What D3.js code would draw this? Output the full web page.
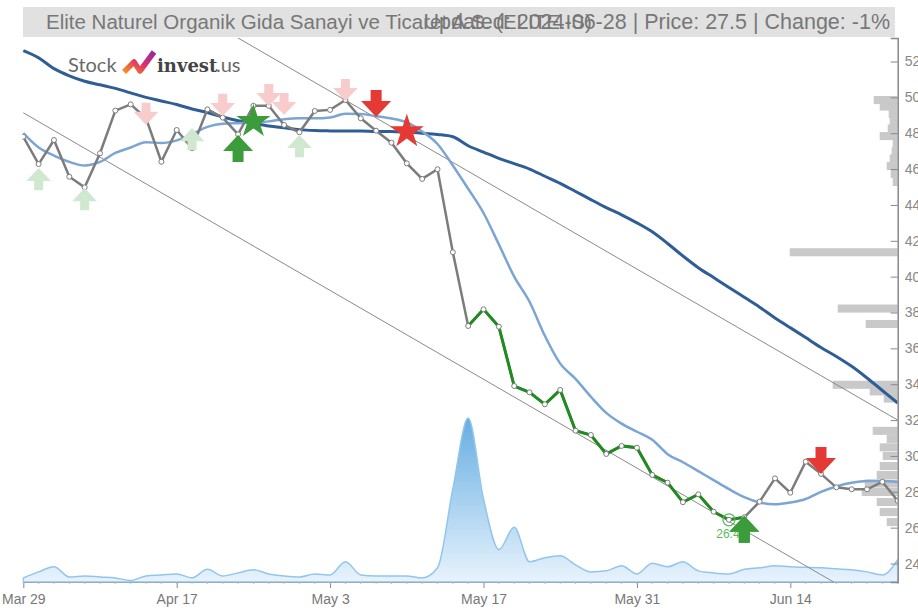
<!DOCTYPE html>
<html>
<head>
<meta charset="utf-8">
<script src="https://cdn.jsdelivr.net/npm/d3@7"></script>
<style>
body { margin: 0; background: #fff; }
text { font-family: "Liberation Sans", Arial, sans-serif; }
</style>
</head>
<body>
<div id="chart"></div>
<script>

const width = 918
const height = 610
const plot = {left: 23.3, right: 897.7, top: 38, bottom: 582}

// trading days (Borsa Istanbul, holidays skipped)
const dates = ["Mar 29","Apr 1","Apr 2","Apr 3","Apr 4","Apr 5","Apr 8","Apr 9","Apr 15","Apr 16",
  "Apr 17","Apr 18","Apr 19","Apr 22","Apr 24","Apr 25","Apr 26","Apr 29","Apr 30","May 2",
  "May 3","May 6","May 7","May 8","May 9","May 10","May 13","May 14","May 15","May 16",
  "May 17","May 20","May 21","May 22","May 23","May 24","May 27","May 28","May 29","May 30",
  "May 31","Jun 3","Jun 4","Jun 5","Jun 6","Jun 7","Jun 10","Jun 11","Jun 12","Jun 13",
  "Jun 14","Jun 20","Jun 21","Jun 24","Jun 25","Jun 26","Jun 27","Jun 28"]

const price = [47.8,46.28,47.62,45.57,44.98,46.88,49.26,49.61,48.83,46.41,
  48.18,47.16,49.33,48.87,47.94,49.53,49.53,48.46,48.05,49.24,
  49.3,49.85,48.83,48.14,47.47,46.32,45.45,45.99,41.36,37.25,
  38.18,37.21,33.9,33.55,32.88,33.68,31.41,31.17,30.11,30.56,
  30.46,28.94,28.51,27.42,27.86,26.89,26.44,26.58,27.45,28.75,
  27.95,29.68,29.0,28.25,28.14,28.14,28.56,27.5]

const maLong = [52.6,52.2,51.6,51.2,50.9,50.7,50.5,50.25,50.0,49.8,
  49.6,49.35,49.15,48.9,48.7,48.55,48.4,48.3,48.2,48.15,
  48.13,48.12,48.12,48.1,48.1,48.05,48.0,47.93,47.8,47.3,
  46.95,46.6,46.3,46.0,45.6,45.2,44.75,44.3,43.85,43.45,
  43.0,42.5,41.85,41.15,40.5,39.95,39.4,38.85,38.3,37.7,
  37.15,36.6,36.05,35.55,35.0,34.35,33.65,32.95]

const maShort = [48.0,47.2,46.75,46.4,46.2,46.4,46.9,47.2,47.5,47.45,
  47.6,47.95,48.35,48.53,48.56,48.59,48.66,48.78,48.83,48.83,
  48.88,49.08,49.07,48.95,48.82,48.6,48.1,47.4,46.2,44.9,
  43.55,41.8,40.0,38.6,36.7,35.15,34.3,33.3,32.4,31.8,
  31.35,30.9,30.1,29.65,29.15,28.65,28.15,27.7,27.4,27.3,
  27.4,27.6,28.0,28.3,28.5,28.6,28.6,28.55]

// relative volume
const volume = [40,100,150,50,60,50,40,15,60,70,
  80,40,125,60,90,120,80,60,50,80,
  70,200,70,60,60,60,40,140,920,1620,
  820,320,540,200,240,260,170,100,110,160,
  80,185,150,200,110,90,80,125,140,160,
  150,145,140,130,120,100,70,220]

// volume by price (right side)
const profilePrice = [49.85,49.49,49.07,48.65,48.26,47.84,47.43,47.0,46.59,46.17,45.73,45.28,
  41.36,38.22,37.36,33.97,33.6,33.2,
  31.4,30.95,30.48,30.0,29.44,28.94,28.46,27.99,27.43,26.87,26.31]
const profileVol = [24,18,9,8,10,18,5,6,8,11,7,5,
  108,60,32,65,28,14,
  25,11,18,15,18,21,33,36,21,18,11]

// trend channel: [start index, start value, end index, end value]
const channelUpper = [0, 60.25, 57, 32.0]
const channelLower = [0, 49.14, 57, 20.9]

const greenFrom = 29, greenTo = 47

// signals: index, price level of the arrow tip
const buySignals = [{i:1, v:46.06, strong:false}, {i:4, v:44.94, strong:false}, {i:11, v:48.29, strong:false},
  {i:18, v:47.9, strong:false}, {i:14, v:47.9, strong:true}, {i:47, v:26.67, strong:true}]
const sellSignals = [{i:8, v:48.46, strong:false}, {i:13, v:48.96, strong:false}, {i:16, v:49.51, strong:false},
  {i:17, v:49.01, strong:false}, {i:21, v:49.79, strong:false}, {i:23, v:48.9, strong:true}, {i:52, v:29.0, strong:true}]
const stars = [{i:15, v:48.65, color:"#3c9c3c"}, {i:25, v:48.08, color:"#e53935"}]

const yTicks = [24,26,28,30,32,34,36,38,40,42,44,46,48,50,52]
const xTickIdx = [0,10,20,30,40,50]

const titleName = "Elite Naturel Organik Gida Sanayi ve Ticaret A.S. (ELITE.IS)"
const titleInfo = "Updated: 2024-06-28 | Price: 27.5 | Change: -1%"

var x = d3.scalePoint()
  .domain(dates)
  .range([plot.left, plot.right])

var y = d3.scaleLinear()
  .domain([22.97, 53.31])
  .range([plot.bottom, plot.top])

var yVol = d3.scaleLinear()
  .domain([0, d3.max(volume)])
  .range([plot.bottom, plot.bottom - 164])

var profLen = d3.scaleLinear()
  .domain([0, d3.max(profileVol)])
  .range([0, 108])

var svg = d3.select("#chart")
  .append("svg")
  .attr("width", width)
  .attr("height", height)

var defs = svg.append("defs")
defs.append("clipPath").attr("id", "clip")
  .append("rect")
  .attr("x", plot.left - 1).attr("y", plot.top)
  .attr("width", plot.right - plot.left + 1).attr("height", plot.bottom - plot.top)

var grad = defs.append("linearGradient").attr("id", "volgrad")
  .attr("x1", 0).attr("y1", 0).attr("x2", 0).attr("y2", 1)
grad.append("stop").attr("offset", "0%").attr("stop-color", "#66aee2")
grad.append("stop").attr("offset", "100%").attr("stop-color", "#e8f3fc")

var g = svg.append("g").attr("clip-path", "url(#clip)")

// volume area
g.append("path")
  .datum(volume)
  .attr("fill", "url(#volgrad)")
  .attr("stroke", "#93c5ec")
  .attr("stroke-width", 1.5)
  .attr("d", d3.area()
    .curve(d3.curveMonotoneX)
    .x(function(d, i) { return x(dates[i]) })
    .y0(plot.bottom)
    .y1(function(d) { return yVol(d) }))

// volume profile
var binH = y(0) - y(0.45)
g.selectAll(".prof")
  .data(profilePrice)
  .enter().append("rect")
  .attr("class", "prof")
  .attr("x", function(d, i) { return plot.right - profLen(profileVol[i]) })
  .attr("y", function(d) { return y(d) - binH / 2 })
  .attr("width", function(d, i) { return profLen(profileVol[i]) })
  .attr("height", binH)
  .style("fill", "#c9c9c9")

// channel lines
;[channelUpper, channelLower].forEach(function(c) {
  var step = x.step()
  g.append("line")
    .attr("x1", x(dates[c[0]])).attr("y1", y(c[1]))
    .attr("x2", x(dates[0]) + c[2] * step).attr("y2", y(c[3]))
    .attr("stroke", "#8a8a8a")
    .attr("stroke-width", 1)
})

var lineOf = function(arr) {
  return d3.line()
    .curve(d3.curveMonotoneX)
    .x(function(d, i) { return x(dates[i]) })
    .y(function(d) { return y(d) })(arr)
}

g.append("path")
  .attr("d", lineOf(maLong))
  .attr("fill", "none")
  .attr("stroke", "#2f5e97")
  .attr("stroke-width", 3)

g.append("path")
  .attr("d", lineOf(maShort))
  .attr("fill", "none")
  .attr("stroke", "#7aa5d4")
  .attr("stroke-width", 2.5)

// price line
var pts = price.map(function(v, i) { return {i: i, v: v} })
var priceLine = d3.line()
  .x(function(d) { return x(dates[d.i]) })
  .y(function(d) { return y(d.v) })

g.append("path")
  .datum(pts)
  .attr("fill", "none")
  .attr("stroke", "#7c7c7c")
  .attr("stroke-width", 2.5)
  .attr("d", priceLine)

g.append("path")
  .datum(pts.slice(greenFrom, greenTo + 1))
  .attr("fill", "none")
  .attr("stroke", "#1f8c1f")
  .attr("stroke-width", 3)
  .attr("d", priceLine)

g.selectAll(".dot")
  .data(pts)
  .enter().append("circle")
  .attr("class", "dot")
  .attr("cx", function(d) { return x(dates[d.i]) })
  .attr("cy", function(d) { return y(d.v) })
  .attr("r", 2.5)
  .style("fill", "#fff")
  .style("stroke", "#7c7c7c")
  .style("stroke-width", 1)

// arrows, tip at (0,0) pointing down
const arrowDown = "M0,0 L-15,-16 L-5.5,-16 L-5.5,-27 L5.5,-27 L5.5,-16 L15,-16 Z"

function drawArrow(s, up, color) {
  var k = s.strong ? 1 : 0.82
  g.append("path")
    .attr("d", arrowDown)
    .attr("transform", "translate(" + x(dates[s.i]) + "," + y(s.v) + ") scale(" + k + "," + (up ? -k : k) + ")")
    .style("fill", color)
}
buySignals.forEach(function(s) { drawArrow(s, true, s.strong ? "#3c9c3c" : "#cfe8cf") })
sellSignals.forEach(function(s) { drawArrow(s, false, s.strong ? "#e53935" : "#f8cccc") })

stars.forEach(function(s) {
  g.append("path")
    .attr("d", d3.symbol(d3.symbolStar).size(360)())
    .attr("transform", "translate(" + x(dates[s.i]) + "," + y(s.v) + ")")
    .style("fill", s.color)
})

// lowest close marker
var minIdx = d3.minIndex(price)
g.append("circle")
  .attr("cx", x(dates[minIdx]))
  .attr("cy", y(price[minIdx]))
  .attr("r", 6)
  .style("fill", "none")
  .style("stroke", "#5cb85c")
  .style("stroke-width", 1.2)
svg.append("text")
  .attr("x", x(dates[minIdx]) - 1)
  .attr("y", y(price[minIdx]) + 18)
  .attr("text-anchor", "middle")
  .style("font-size", "12px")
  .style("fill", "#5cb85c")
  .text(d3.format(".1f")(Math.floor(price[minIdx] * 10) / 10))
// strong buy arrow sits over the label
buySignals.filter(function(s) { return s.i == 47 }).forEach(function(s) {
  svg.append("path")
    .attr("d", arrowDown)
    .attr("transform", "translate(" + x(dates[s.i]) + "," + y(s.v) + ") scale(1,-1)")
    .style("fill", "#3c9c3c")
})

// x axis
var xAxis = svg.append("g")
  .attr("transform", "translate(0," + plot.bottom + ")")
  .call(d3.axisBottom(x)
    .tickValues(xTickIdx.map(function(i) { return dates[i] }))
    .tickSize(6).tickSizeOuter(0).tickPadding(6))
xAxis.select(".domain").attr("stroke", "#9ab")
xAxis.selectAll(".tick line").attr("stroke", "#888")
xAxis.selectAll("text").style("font-size", "14px").style("fill", "#777")

svg.append("g").selectAll("line")
  .data(dates)
  .enter().append("line")
  .attr("x1", function(d) { return x(d) }).attr("x2", function(d) { return x(d) })
  .attr("y1", plot.bottom).attr("y2", plot.bottom + 2)
  .attr("stroke", "#bbb")

// y axis on the right
var yAxis = svg.append("g")
  .attr("transform", "translate(" + plot.right + ",0)")
  .call(d3.axisRight(y).tickValues(yTicks).tickSize(-7).tickPadding(7))
yAxis.select(".domain").attr("stroke", "#888").attr("stroke-width", 1.5)
yAxis.selectAll(".tick line").attr("stroke", "#888")
yAxis.selectAll("text").style("font-size", "14px").style("fill", "#888")

// title bar
svg.append("rect")
  .attr("x", 23).attr("y", 7)
  .attr("width", 872).attr("height", 30)
  .style("fill", "#e1e1e1")
svg.append("text")
  .attr("x", 46).attr("y", 29)
  .style("font-size", "20.5px").style("fill", "#777")
  .text(titleName)
svg.append("text")
  .attr("x", 890).attr("y", 29)
  .attr("text-anchor", "end")
  .style("font-size", "21.5px").style("fill", "#777")
  .text(titleInfo)

// logo
var logo = svg.append("g")
logo.append("text")
  .attr("x", 68).attr("y", 72)
  .style("font-family", "Lato, 'Open Sans', sans-serif")
  .style("font-size", "20px").style("fill", "#6a6a6a")
  .text("Stock")
var lg = defs.append("linearGradient").attr("id", "logograd")
  .attr("x1", 0).attr("y1", 1).attr("x2", 1).attr("y2", 0)
lg.append("stop").attr("offset", "0%").attr("stop-color", "#f7941d")
lg.append("stop").attr("offset", "50%").attr("stop-color", "#e0306a")
lg.append("stop").attr("offset", "100%").attr("stop-color", "#8e2aa8")
logo.append("path")
  .attr("d", "M124,72 L134,62 L140,71 L154,52")
  .attr("fill", "none")
  .attr("stroke", "url(#logograd)")
  .attr("stroke-width", 5.5)
  .attr("stroke-linejoin", "round")
logo.append("text")
  .attr("x", 157).attr("y", 72)
  .style("font-family", "'DejaVu Serif', serif")
  .style("font-weight", "bold")
  .style("font-size", "18px").style("fill", "#444")
  .text("invest")
logo.append("text")
  .attr("x", 216).attr("y", 72)
  .style("font-family", "Lato, 'Open Sans', sans-serif")
  .style("font-size", "20px").style("fill", "#6a6a6a")
  .text(".us")

</script>
</body>
</html>
